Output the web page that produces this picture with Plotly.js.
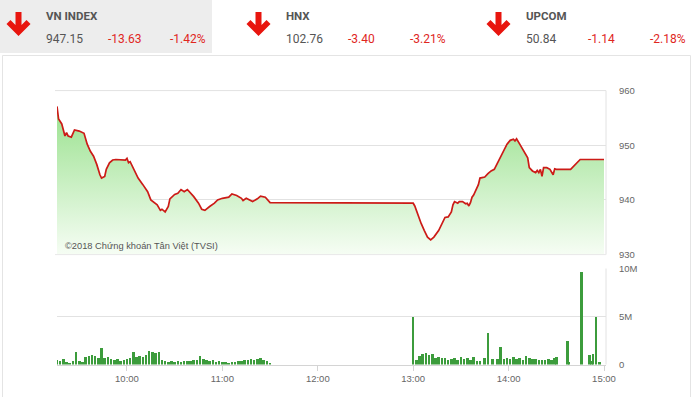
<!DOCTYPE html>
<html>
<head>
<meta charset="utf-8">
<script src="https://cdn.plot.ly/plotly-3.0.1.min.js"></script>
<style>html,body{margin:0;padding:0;background:#fff;}#chart{width:693px;height:397px;}</style>
</head>
<body>
<div id="chart"></div>
<script>
// ---- Data ----
const day = "2018-06-01 ";
const priceTimes = ["09:16","09:17","09:19","09:20","09:21","09:22","09:23","09:25","09:27","09:30","09:33","09:35","09:37","09:39","09:41","09:43","09:44","09:46","09:47","09:49","09:51","09:53","09:57","09:59","10:00","10:01","10:02","10:04","10:07","10:10","10:13","10:15","10:19","10:21","10:22","10:24","10:26","10:27","10:30","10:32","10:34","10:36","10:38","10:42","10:45","10:47","10:49","10:52","10:55","10:57","11:00","11:04","11:06","11:09","11:12","11:13","11:15","11:19","11:22","11:24","11:27","11:30","13:00","13:01","13:03","13:05","13:07","13:09","13:11","13:13","13:16","13:18","13:20","13:22","13:24","13:25","13:26","13:28","13:29","13:31","13:33","13:34","13:35","13:36","13:37","13:38","13:40","13:41","13:42","13:45","13:47","13:49","13:51","13:53","13:55","13:57","13:59","14:01","14:03","14:04","14:05","14:07","14:09","14:10","14:12","14:13","14:15","14:17","14:18","14:19","14:20","14:21","14:22","14:24","14:26","14:28","14:29","14:30","14:39","14:45","15:00"];
const priceValues = [957.1,954.8,953.9,953.0,951.7,952.3,951.7,951.5,952.8,952.6,952.2,950.2,948.9,948.0,946.5,944.6,944.0,944.3,945.6,946.8,947.3,947.4,947.3,947.3,947.6,946.8,947.0,945.9,944.0,942.8,941.5,940.0,939.1,938.1,938.3,937.8,938.8,940.2,941.0,941.2,941.9,941.5,941.9,940.6,939.4,938.3,938.1,938.8,939.4,940.0,940.3,940.5,941.1,940.8,940.3,939.9,940.3,939.7,940.2,940.7,940.5,939.5,939.4,938.9,937.2,935.7,934.4,933.2,932.7,933.2,934.4,935.7,936.8,936.9,937.8,939.1,939.7,939.4,939.7,939.7,939.3,939.4,938.9,939.5,940.5,940.9,942.2,942.8,944.0,944.2,944.8,945.3,945.6,946.8,947.7,948.9,950.2,950.9,951.1,950.8,951.2,950.2,949.3,948.6,947.7,945.9,945.3,945.0,945.4,945.0,945.6,944.3,945.9,945.9,945.6,944.6,945.7,945.6,945.6,947.4,947.4];

const volMorningTimes = ["09:16","09:18","09:20","09:22","09:24","09:26","09:28","09:30","09:32","09:34","09:36","09:38","09:40","09:42","09:44","09:46","09:48","09:50","09:52","09:54","09:56","09:58","10:00","10:02","10:04","10:06","10:08","10:10","10:12","10:14","10:16","10:18","10:20","10:22","10:24","10:26","10:28","10:30","10:32","10:34","10:36","10:38","10:40","10:42","10:44","10:46","10:48","10:50","10:52","10:54","10:56","10:58","11:00","11:02","11:04","11:06","11:08","11:10","11:12","11:14","11:16","11:18","11:20","11:22","11:24","11:26","11:28","11:30"];
const volMorningM = [0.5,0.4,0.6,0.3,0.2,0.4,1.3,0.4,0.3,0.8,0.9,1.0,0.9,0.7,1.7,0.7,0.8,0.6,0.5,0.6,0.4,0.5,0.6,0.7,1.3,0.8,0.9,0.8,1.0,1.4,1.35,1.2,1.3,0.5,0.35,0.3,0.35,0.3,0.4,0.3,0.4,0.35,0.4,0.5,0.45,0.85,0.6,0.5,0.4,0.45,0.3,0.35,0.3,0.25,0.2,0.25,0.3,0.35,0.4,0.5,0.45,0.55,0.5,0.6,0.7,0.5,0.35,0.2];
const volAfternoonTimes = ["13:00","13:02","13:04","13:06","13:08","13:10","13:12","13:14","13:16","13:18","13:20","13:22","13:24","13:26","13:28","13:30","13:32","13:34","13:36","13:38","13:40","13:42","13:45","13:47","13:50","13:53","13:55","13:57","13:59","14:01","14:03","14:05","14:07","14:09","14:11","14:13","14:15","14:17","14:19","14:21","14:23","14:25","14:27","14:29","14:30","14:37","14:38","14:46","14:51","14:52","14:53","14:55","14:57"];
const volAfternoonM = [5.0,0.5,0.9,1.05,1.15,1.0,1.05,0.7,0.8,0.65,0.7,0.45,0.55,0.65,0.45,0.8,0.55,0.65,0.5,0.8,0.4,0.4,0.65,3.3,0.55,0.55,1.85,0.6,0.65,0.55,0.75,0.55,0.65,0.45,0.9,0.65,0.55,0.55,0.45,0.5,0.45,0.55,0.45,0.65,0.8,2.4,0.3,9.6,1.0,0.4,1.05,5.0,0.25];

const priceTicks = [930, 940, 950, 960];
const volTicks = [0, 5, 10];
const volTickText = ["0", "5M", "10M"];
const timeTicks = ["10:00","11:00","12:00","13:00","14:00","15:00"];

const headers = [
  {name: "VN INDEX", value: "947.15", change: "-13.63", pct: "-1.42%"},
  {name: "HNX", value: "102.76", change: "-3.40", pct: "-3.21%"},
  {name: "UPCOM", value: "50.84", change: "-1.14", pct: "-2.18%"}
];
const copyright = "©2018 Chứng khoán Tân Việt (TVSI)";

// ---- Layout helpers (pixel -> paper) ----
const W = 693, H = 397;
const px = x => x / W;
const py = y => 1 - y / H;
const pt = (x, y) => px(x) + "," + py(y);

const red = "#e0261d";
const grey = "#666";
const xDomain = [px(57), px(606)];
const xRange = [day + "09:16:00", day + "15:01:15"];

const shapes = [];
const annotations = [];
// header grey box
shapes.push({type: "rect", xref: "paper", yref: "paper", x0: px(0), x1: px(212), y0: py(53), y1: py(0), fillcolor: "#ededed", line: {width: 0}, layer: "below"});
// panel border
shapes.push({type: "rect", xref: "paper", yref: "paper", x0: px(2.5), x1: px(690.5), y0: py(400), y1: py(55.5), fillcolor: "rgba(0,0,0,0)", line: {color: "#e4e4e4", width: 1}, layer: "below"});

headers.forEach((h, i) => {
  const off = i * 240;
  const cx = 18.5 + off;
  const arrow = [[-3,12],[3,12],[3,25],[8,20],[12,24],[0,36],[-12,24],[-8,20],[-3,25]];
  shapes.push({type: "path", xref: "paper", yref: "paper",
    path: "M " + arrow.map(p => pt(cx + p[0], p[1])).join(" L ") + " Z",
    fillcolor: "#e8150e", line: {width: 0}});
  const base = {xref: "paper", yref: "paper", showarrow: false, xanchor: "left", yanchor: "middle", borderpad: 0};
  annotations.push(Object.assign({}, base, {x: px(45 + off), y: py(16), text: "<b>" + h.name + "</b>", font: {family: "Roboto", size: 11.5, color: "#555"}}));
  annotations.push(Object.assign({}, base, {x: px(45 + off), y: py(38.5), text: h.value, font: {family: "Roboto", size: 12, color: "#555"}}));
  annotations.push(Object.assign({}, base, {x: px(107 + off), y: py(38.5), text: h.change, font: {family: "Roboto", size: 12, color: red}}));
  annotations.push(Object.assign({}, base, {x: px(169 + off), y: py(38.5), text: h.pct, font: {family: "Roboto", size: 12, color: red}}));
});

annotations.push({xref: "paper", yref: "paper", showarrow: false, xanchor: "left", yanchor: "middle", x: px(63), y: py(246), text: copyright, font: {family: "Liberation Sans, Arial", size: 9.3, color: "#555"}});

// plot box borders
shapes.push({type: "line", xref: "x domain", yref: "y domain", x0: 1, x1: 1, y0: 0, y1: 1, line: {color: "#e2e2e2", width: 1}});
shapes.push({type: "line", xref: "paper", yref: "y domain", x0: px(55), x1: xDomain[1], y0: 1, y1: 1, line: {color: "#e2e2e2", width: 1}});
shapes.push({type: "line", xref: "paper", yref: "y domain", x0: px(55), x1: xDomain[1], y0: 0, y1: 0, line: {color: "#e8e8e8", width: 1}});
shapes.push({type: "line", xref: "x2 domain", yref: "y2 domain", x0: 1, x1: 1, y0: 0, y1: 1, line: {color: "#e2e2e2", width: 1}});

const priceTrace = {
  type: "scatter", mode: "lines", xaxis: "x", yaxis: "y",
  x: priceTimes.map(t => day + t), y: priceValues,
  line: {color: "#cc1b17", width: 1.7},
  fill: "tozeroy",
  fillgradient: {type: "vertical", start: 930, stop: 958, colorscale: [[0, "rgba(246,253,244,1)"], [1, "rgba(150,224,138,1)"]]},
  hoverinfo: "skip"
};
const volTrace = {
  type: "bar", xaxis: "x2", yaxis: "y2",
  x: volMorningTimes.concat(volAfternoonTimes).map(t => day + t),
  y: volMorningM.concat(volAfternoonM),
  width: 95000,
  marker: {color: "#3c9c3c", line: {width: 0}},
  hoverinfo: "skip"
};

const tickFont = {family: "Liberation Sans, Arial", size: 9.5, color: grey};
const layout = {
  width: W, height: H,
  margin: {l: 0, r: 0, t: 0, b: 0},
  paper_bgcolor: "#fff", plot_bgcolor: "rgba(0,0,0,0)",
  showlegend: false,
  bargap: 0,
  xaxis: {domain: xDomain, type: "date", range: xRange, anchor: "y", showticklabels: false, showgrid: false, zeroline: false, showline: false, ticks: ""},
  yaxis: {domain: [py(254.6), py(90.6)], range: [930, 960], side: "right", anchor: "x", tickvals: priceTicks, showgrid: true, gridcolor: "#e2e2e2", gridwidth: 1, zeroline: false, showline: false, ticks: "outside", ticklen: 10, tickcolor: "rgba(0,0,0,0)", tickfont: tickFont},
  xaxis2: {domain: xDomain, type: "date", range: xRange, anchor: "y2", tickvals: timeTicks.map(t => day + t), ticktext: timeTicks, showgrid: false, zeroline: false, showline: true, linecolor: "#d4d4d4", linewidth: 1, ticks: "outside", ticklen: 5, tickcolor: "#d4d4d4", tickfont: tickFont},
  yaxis2: {domain: [py(364.5), py(268.5)], range: [0, 10], side: "right", anchor: "x2", tickvals: volTicks, ticktext: volTickText, showgrid: true, gridcolor: "#e2e2e2", zeroline: false, showline: false, ticks: "outside", ticklen: 10, tickcolor: "rgba(0,0,0,0)", tickfont: tickFont},
  shapes: shapes,
  annotations: annotations
};

Plotly.newPlot("chart", [priceTrace, volTrace], layout, {staticPlot: true, displayModeBar: false});
</script>
</body>
</html>
